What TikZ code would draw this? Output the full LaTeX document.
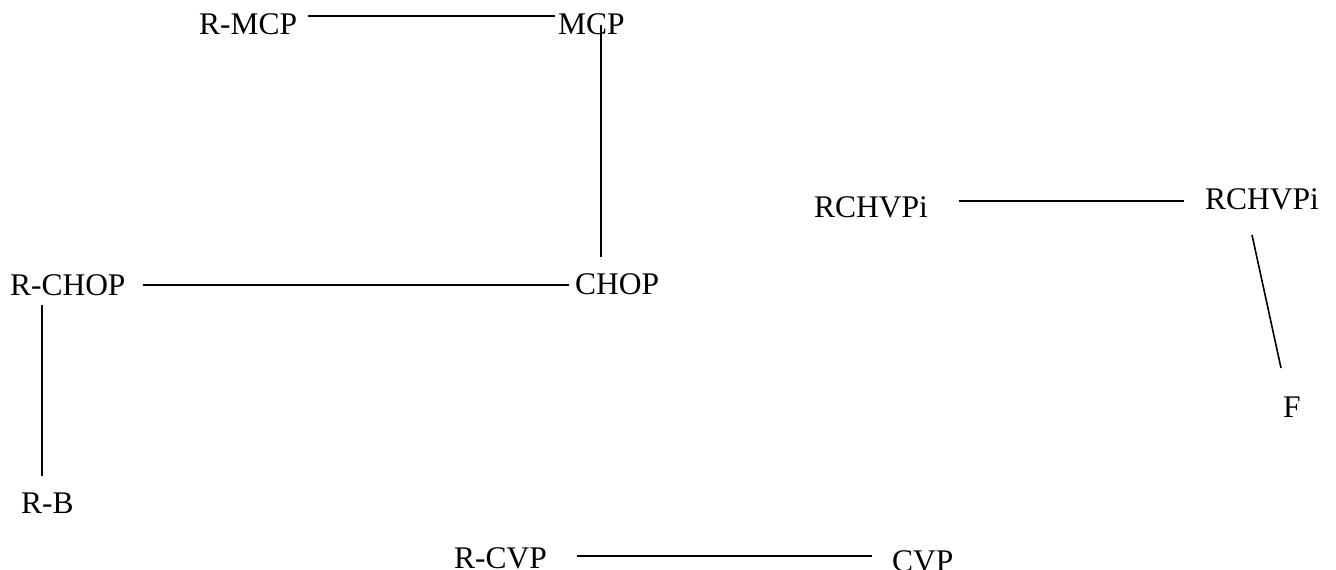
\documentclass[tikz,border=0pt]{standalone}
\usepackage{fontspec}
\setmainfont{Liberation Serif}
\begin{document}
\begin{tikzpicture}[x=1pt,y=1pt,
  lbl/.style={anchor=base west,inner sep=0pt,outer sep=0pt,font=\fontsize{31.5}{36}\selectfont},
  conn/.style={line width=1.6pt,black}]
\useasboundingbox (0,0) rectangle (1336,570);
\node[lbl] (rmcp) at (199,535) {R-MCP};
\node[lbl] (mcp) at (558,535) {MCP};
\node[lbl] (rchop) at (10,274) {R-CHOP};
\node[lbl] (chop) at (575,275) {CHOP};
\node[lbl] (rb) at (21,56) {R-B};
\node[lbl] (rchvpil) at (814,352) {RCHVPi};
\node[lbl] (rchvpir) at (1205,360) {RCHVPi};
\node[lbl] (f) at (1283,152) {F};
\node[lbl] (rcvp) at (454,1) {R-CVP};
\node[lbl] (cvp) at (892,-2) {CVP};
\draw[conn] ([shift={(109,19)}]rmcp.base west) -- ([shift={(-3,19)}]mcp.base west);
\draw[conn] ([shift={(43,10)}]mcp.base west) -- ([shift={(26,38)}]chop.base west);
\draw[conn] ([shift={(133,11)}]rchop.base west) -- ([shift={(-6,10)}]chop.base west);
\draw[conn] ([shift={(32,-9)}]rchop.base west) -- ([shift={(21,38)}]rb.base west);
\draw[conn] ([shift={(145,17)}]rchvpil.base west) -- ([shift={(-21,9)}]rchvpir.base west);
\draw[conn] ([shift={(47,-25)}]rchvpir.base west) -- ([shift={(-2,50)}]f.base west);
\draw[conn] ([shift={(123,13)}]rcvp.base west) -- ([shift={(-20,16)}]cvp.base west);
\end{tikzpicture}
\end{document}
